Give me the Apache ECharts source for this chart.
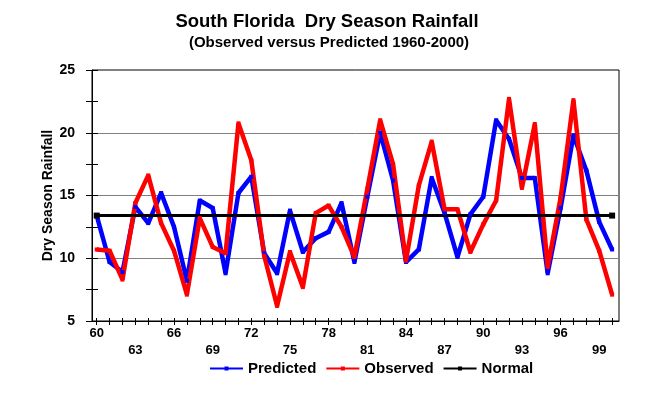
<!DOCTYPE html>
<html>
<head>
<meta charset="utf-8">
<script src="https://cdn.jsdelivr.net/npm/echarts@6/dist/echarts.min.js"></script>
<style>
html,body{margin:0;padding:0;background:#fff;}
#chart{width:658px;height:395px;}
</style>
</head>
<body>
<div id="chart"></div>
<script>
const YEARS = [1960,1961,1962,1963,1964,1965,1966,1967,1968,1969,
  1970,1971,1972,1973,1974,1975,1976,1977,1978,1979,
  1980,1981,1982,1983,1984,1985,1986,1987,1988,1989,
  1990,1991,1992,1993,1994,1995,1996,1997,1998,1999,2000];
const PREDICTED = [13.4,9.7,8.9,14.1,12.8,15.2,12.5,8.2,14.6,14.0,
  8.8,15.2,16.5,10.4,8.8,13.8,10.5,11.6,12.1,14.4,
  9.7,14.9,20.0,16.2,9.7,10.7,16.4,13.6,10.1,13.5,
  14.9,21.0,19.5,16.4,16.4,8.8,14.0,19.8,17.0,12.9,10.7];
const OBSERVED = [10.7,10.6,8.3,14.4,16.6,12.8,10.6,7.1,13.2,10.9,
  10.4,20.75,17.8,10.2,6.2,10.5,7.7,13.6,14.2,12.5,
  10.1,15.5,21.0,17.5,9.8,15.8,19.3,13.9,13.9,10.5,
  12.7,14.6,22.7,15.6,20.7,9.3,14.8,22.6,13.1,10.6,7.1];
const NORMAL = 13.4;
const X_LABEL_YEARS = [1960,1963,1966,1969,1972,1975,1978,1981,1984,1987,1990,1993,1996,1999];
const Y_LABELS = [5,10,15,20,25];

const FONT = '"Liberation Sans", Arial, sans-serif';
const pairs = arr => YEARS.map((y, i) => [y, arr[i]]);
const normalData = YEARS.map(y => [y, NORMAL]);
const lastIdx = YEARS.length - 1;

const chart = echarts.init(document.getElementById('chart'), null, {renderer: 'canvas'});
const baseX = {
  type: 'value', min: 1959.635, max: 2000.535, gridIndex: 0, position: 'bottom',
  splitLine: {show: false}
};
const baseY = {type: 'value', min: 5, max: 25, gridIndex: 0, position: 'left'};

chart.setOption({
  animation: false,
  backgroundColor: '#fff',
  title: [
    {text: 'South Florida  Dry Season Rainfall', left: 322, top: 7, textAlign: 'center',
     textStyle: {fontFamily: FONT, fontWeight: 'bold', fontSize: 18.5, color: '#000'}},
    {text: '(Observed versus Predicted 1960-2000)', left: 324, top: 30, textAlign: 'center',
     textStyle: {fontFamily: FONT, fontWeight: 'bold', fontSize: 15, color: '#000'}}
  ],
  grid: {left: 92, right: 39, top: 70, bottom: 74, show: true, borderColor: '#000', borderWidth: 1, backgroundColor: 'transparent'},
  legend: {
    left: 204, top: 356, itemWidth: 33, itemHeight: 5, itemGap: 9,
    textStyle: {fontFamily: FONT, fontWeight: 'bold', fontSize: 15, color: '#000'},
    data: ['Predicted', 'Observed', 'Normal']
  },
  xAxis: [
    Object.assign({}, baseX, {
      axisLine: {show: true, lineStyle: {color: '#000', width: 1}},
      axisTick: {show: true, inside: false, length: 4, customValues: YEARS, lineStyle: {color: '#000'}},
      axisLabel: {
        show: true, customValues: X_LABEL_YEARS, margin: 4, lineHeight: 17,
        fontFamily: FONT, fontWeight: 'bold', fontSize: 13, color: '#000',
        formatter: v => (((v - 1960) / 3) % 2 === 0 ? '' : '\n') + String(v).slice(2)
      }
    }),
    Object.assign({}, baseX, {
      axisLine: {show: false},
      axisTick: {show: true, inside: true, length: 3, customValues: YEARS, lineStyle: {color: '#000'}},
      axisLabel: {show: false}
    })
  ],
  yAxis: [
    Object.assign({}, baseY, {
      interval: 2.5,
      name: 'Dry Season Rainfall', nameLocation: 'middle', nameGap: 37, nameRotate: 90,
      nameMoveOverlap: false,
      nameTextStyle: {fontFamily: FONT, fontWeight: 'bold', fontSize: 14, color: '#000'},
      axisLine: {show: true, lineStyle: {color: '#000', width: 1}},
      axisTick: {show: true, inside: false, length: 6, lineStyle: {color: '#000'}},
      axisLabel: {show: true, margin: 17, fontFamily: FONT, fontWeight: 'bold', fontSize: 14, color: '#000',
        formatter: v => (Y_LABELS.indexOf(v) >= 0 ? String(v) : '')},
      splitLine: {show: false}
    }),
    Object.assign({}, baseY, {
      interval: 2.5,
      axisLine: {show: false},
      axisTick: {show: true, inside: true, length: 6, lineStyle: {color: '#000'}},
      axisLabel: {show: false},
      splitLine: {show: false}
    }),
    Object.assign({}, baseY, {
      interval: 5,
      axisLine: {show: false},
      axisTick: {show: false},
      axisLabel: {show: false},
      splitLine: {show: true, showMinLine: false, showMaxLine: false, lineStyle: {color: '#808080', width: 1}}
    })
  ],
  series: [
    {name: 'Predicted', type: 'line', data: pairs(PREDICTED), symbol: 'rect', symbolSize: 4,
     showSymbol: true, color: '#0000ff', lineStyle: {color: '#0000ff', width: 4.5}, itemStyle: {color: '#0000ff'}},
    {name: 'Observed', type: 'line', data: pairs(OBSERVED), symbol: 'rect', symbolSize: 4,
     showSymbol: true, color: '#ff0000', lineStyle: {color: '#ff0000', width: 4.5}, itemStyle: {color: '#ff0000'}},
    {name: 'Normal', type: 'line', data: normalData, color: '#000',
     symbol: 'rect', symbolSize: (v, p) => (p.dataIndex === 0 || p.dataIndex === lastIdx) ? 6 : 0,
     showSymbol: true, lineStyle: {color: '#000', width: 3}, itemStyle: {color: '#000'}}
  ]
});
</script>
</body>
</html>
